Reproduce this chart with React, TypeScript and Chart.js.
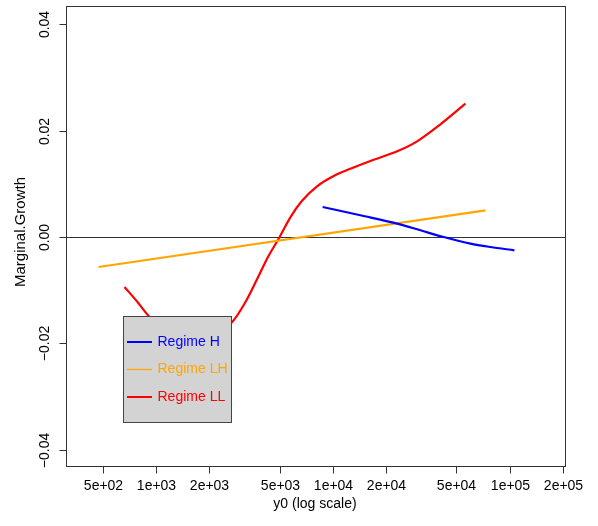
import React, { useEffect, useRef } from "react";
import { Chart, registerables } from "chart.js";

Chart.register(...registerables);

const xTicks = [500, 1000, 2000, 5000, 10000, 20000, 50000, 100000, 200000];
const xTickLabels = ["5e+02", "1e+03", "2e+03", "5e+03", "1e+04", "2e+04", "5e+04", "1e+05", "2e+05"];
const yTicks = [-0.04, -0.02, 0, 0.02, 0.04];
const yTickLabels = ["\u22120.04", "\u22120.02", "0.00", "0.02", "0.04"];

const seriesNames = ["Regime H", "Regime LH", "Regime LL"];
const seriesColors = ["#0000FF", "#FFA500", "#FF0000"];

const hX = [8755, 14310, 23080, 31260, 42330, 59960, 77770, 106300];
const hY = [0.00563, 0.00408, 0.00252, 0.00126, 0.0, -0.00124, -0.00188, -0.0025];

const lhX = [473, 72900];
const lhY = [-0.00563, 0.00501];

const llX = [664, 784, 920, 1129, 1465, 1900, 2310, 2690, 3200, 3726, 4318, 4936, 5750, 6695, 8140, 10560, 12560, 17010, 23470, 29940, 40550, 56150];
const llY = [-0.00939, -0.01217, -0.01502, -0.01752, -0.01884, -0.01865, -0.01752, -0.01602, -0.01226, -0.00794, -0.00362, -0.00034, 0.0037, 0.0068, 0.00952, 0.01178, 0.01281, 0.0145, 0.01619, 0.01797, 0.02117, 0.02505];

const xMin = 314;
const xMax = 208000;
const yMin = -0.0432;
const yMax = 0.0432;

const FONT = '"Liberation Sans", Arial, Helvetica, sans-serif';

function pts(xs: number[], ys: number[]) {
  return xs.map((x, i) => ({ x, y: ys[i] }));
}

const rStylePlugin = {
  id: "rStyle",
  beforeDatasetsDraw(chart: any) {
    const { ctx, chartArea, scales } = chart;
    const y0 = Math.round(scales.y.getPixelForValue(0)) + 0.5;
    ctx.save();
    ctx.strokeStyle = "#333";
    ctx.lineWidth = 1;
    ctx.beginPath();
    ctx.moveTo(chartArea.left, y0);
    ctx.lineTo(chartArea.right, y0);
    ctx.stroke();
    ctx.restore();
  },
  afterDatasetsDraw(chart: any) {
    const { ctx, chartArea, scales } = chart;
    const L = chartArea.left - 0.5;
    const R = chartArea.right - 0.5;
    const T = chartArea.top - 0.5;
    const B = chartArea.bottom - 0.5;
    ctx.save();
    ctx.strokeStyle = "#333";
    ctx.lineWidth = 1;
    ctx.strokeRect(L, T, R - L, B - T);

    ctx.font = `14px ${FONT}`;
    ctx.fillStyle = "#000";
    ctx.textAlign = "center";
    ctx.textBaseline = "middle";
    xTicks.forEach((v, i) => {
      const px = Math.round(scales.x.getPixelForValue(v)) + 0.5;
      ctx.beginPath();
      ctx.moveTo(px, B);
      ctx.lineTo(px, B + 7);
      ctx.stroke();
      ctx.fillText(xTickLabels[i], px, 486);
    });
    yTicks.forEach((v, i) => {
      const py = Math.round(scales.y.getPixelForValue(v)) + 0.5;
      ctx.beginPath();
      ctx.moveTo(L, py);
      ctx.lineTo(L - 7, py);
      ctx.stroke();
      ctx.save();
      ctx.translate(45, py);
      ctx.rotate(-Math.PI / 2);
      ctx.fillText(yTickLabels[i], 0, 0);
      ctx.restore();
    });
    ctx.fillText("y0 (log scale)", 315, 504);
    ctx.save();
    ctx.translate(21, 232);
    ctx.rotate(-Math.PI / 2);
    ctx.font = `15px ${FONT}`;
    ctx.fillText("Marginal.Growth", 0, 0);
    ctx.restore();

    const lx = 123.5, ly = 316.5, lw = 108, lh = 106;
    ctx.fillStyle = "#d3d3d3";
    ctx.fillRect(lx, ly, lw, lh);
    ctx.strokeStyle = "#444";
    ctx.lineWidth = 1;
    ctx.strokeRect(lx, ly, lw, lh);
    const rows = [342, 369.5, 397];
    const widths = [2, 1.3, 2];
    ctx.font = `14px ${FONT}`;
    ctx.textAlign = "left";
    seriesNames.forEach((name, i) => {
      ctx.strokeStyle = seriesColors[i];
      ctx.lineWidth = widths[i];
      ctx.beginPath();
      ctx.moveTo(127, rows[i]);
      ctx.lineTo(152, rows[i]);
      ctx.stroke();
      ctx.fillStyle = seriesColors[i];
      ctx.fillText(name, 157.5, rows[i]);
    });
    ctx.restore();
  },
};

export default function App() {
  const ref = useRef<HTMLCanvasElement | null>(null);
  useEffect(() => {
    if (!ref.current) return;
    const chart = new Chart(ref.current, {
      type: "line",
      data: {
        datasets: [
          { label: seriesNames[0], data: pts(hX, hY), borderColor: seriesColors[0], borderWidth: 2.2, pointRadius: 0, cubicInterpolationMode: "monotone" },
          { label: seriesNames[1], data: pts(lhX, lhY), borderColor: seriesColors[1], borderWidth: 2.2, pointRadius: 0 },
          { label: seriesNames[2], data: pts(llX, llY), borderColor: seriesColors[2], borderWidth: 2.2, pointRadius: 0, cubicInterpolationMode: "monotone" },
        ],
      },
      options: {
        responsive: false,
        animation: false,
        devicePixelRatio: 1,
        layout: { padding: { left: 67, top: 7, right: 32, bottom: 59 } },
        plugins: { legend: { display: false }, tooltip: { enabled: false } },
        scales: {
          x: { type: "logarithmic", min: xMin, max: xMax, display: false },
          y: { type: "linear", min: yMin, max: yMax, display: false },
        },
      },
      plugins: [rStylePlugin],
    } as any);
    return () => chart.destroy();
  }, []);
  return (
    <div style={{ position: "absolute", left: 0, top: 0, width: 598, height: 526, background: "#fff" }}>
      <canvas ref={ref} width={598} height={526} style={{ width: 598, height: 526, display: "block" }} />
    </div>
  );
}
